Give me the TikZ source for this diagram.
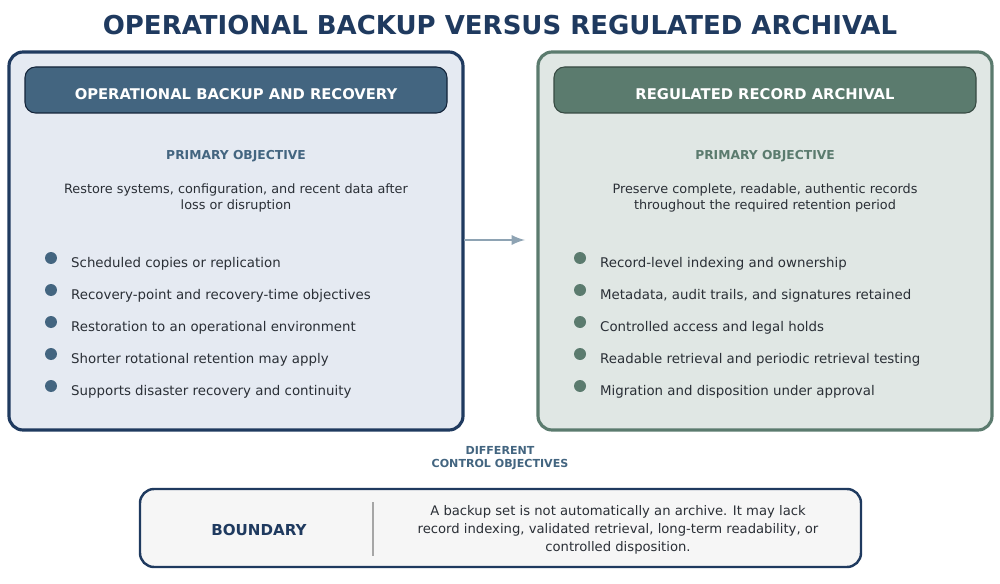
\documentclass[tikz,border=0pt]{standalone}
\usepackage{fontspec}
\setmainfont{DejaVu Sans}
\usetikzlibrary{positioning}
\definecolor{navy}{HTML}{1F3A5F}
\definecolor{steel}{HTML}{436580}
\definecolor{sage}{HTML}{5B7B6E}
\definecolor{leftbg}{HTML}{E5EAF2}
\definecolor{rightbg}{HTML}{E0E7E4}
\definecolor{textc}{HTML}{2A2F36}
\begin{document}
\begin{tikzpicture}[x=0.02cm,y=-0.02cm,
    panel/.style={rounded corners=8pt, line width=1.8pt},
    header/.style={rounded corners=6pt, draw=navy!60!black, line width=0.6pt},
    htext/.style={font=\fontsize{8.4}{10}\selectfont\bfseries, text=white},
    objective/.style={font=\fontsize{7}{9}\selectfont\bfseries},
    body/.style={font=\fontsize{7.3}{9.5}\selectfont, text=textc, align=center},
    item/.style={font=\fontsize{7.6}{9}\selectfont, text=textc, anchor=west},
    dot/.style={circle, inner sep=0pt, minimum size=0.24cm}]
    \useasboundingbox (0,0) rectangle (1000,584);

    % Titel
    \node[font=\fontsize{14.8}{18}\selectfont\bfseries, text=navy] (title) at (500,25) {OPERATIONAL BACKUP VERSUS REGULATED ARCHIVAL};

    % Linkes Feld
    \draw[panel, draw=navy, fill=leftbg] (9,52) rectangle (463,430);
    \draw[header, fill=steel] (25,67) rectangle (447,113);
    \node[htext] (lhead) at (236,94) {OPERATIONAL BACKUP AND RECOVERY};
    \node[objective, text=steel] (lobj) at (236,156) {PRIMARY OBJECTIVE};
    \node[body] (ltext) at (236,198) {Restore systems, configuration, and recent data after\\loss or disruption};
    \foreach \y/\t in {264/Scheduled copies or replication,
                       296/Recovery-point and recovery-time objectives,
                       328/Restoration to an operational environment,
                       360/Shorter rotational retention may apply,
                       392/Supports disaster recovery and continuity} {
        \node[dot, fill=steel] at (51,\y-6) {};
        \node[item] at (65,\y) {\t};
    }

    % Rechtes Feld
    \draw[panel, draw=sage, fill=rightbg] (538,52) rectangle (992,430);
    \draw[header, draw=sage!60!black, fill=sage] (554,67) rectangle (976,113);
    \node[htext] (rhead) at (765,94) {REGULATED RECORD ARCHIVAL};
    \node[objective, text=sage] (robj) at (765,156) {PRIMARY OBJECTIVE};
    \node[body] (rtext) at (765,198) {Preserve complete, readable, authentic records\\throughout the required retention period};
    \foreach \y/\t in {264/Record-level indexing and ownership,
                       296/{Metadata, audit trails, and signatures retained},
                       328/Controlled access and legal holds,
                       360/Readable retrieval and periodic retrieval testing,
                       392/Migration and disposition under approval} {
        \node[dot, fill=sage] at (580,\y-6) {};
        \node[item] at (594,\y) {\t};
    }

    % Pfeil
    \coordinate (astart) at (464,240);
    \coordinate (aend) at (525,240);
    \draw[-latex, line width=1.6pt, draw=steel!60] (astart) -- (aend);

    \node[font=\fontsize{6.3}{7.4}\selectfont\bfseries, text=steel, align=center] (diff) at (500,458) {DIFFERENT\\CONTROL OBJECTIVES};

    % Grenze
    \draw[panel, draw=navy, fill=gray!7, line width=1.4pt] (140,489) rectangle (861,567);
    \node[font=\fontsize{8.6}{10}\selectfont\bfseries, text=navy] (bound) at (259,530) {BOUNDARY};
    \coordinate (dtop) at (373,502);
    \coordinate (dbot) at (373,556);
    \draw[gray!70, line width=0.8pt] (dtop) -- (dbot);
    \node[body, font=\fontsize{7.5}{10.3}\selectfont] (btext) at (618,530) {A backup set is not automatically an archive. It may lack\\record indexing, validated retrieval, long-term readability, or\\controlled disposition.};
\end{tikzpicture}
\end{document}
